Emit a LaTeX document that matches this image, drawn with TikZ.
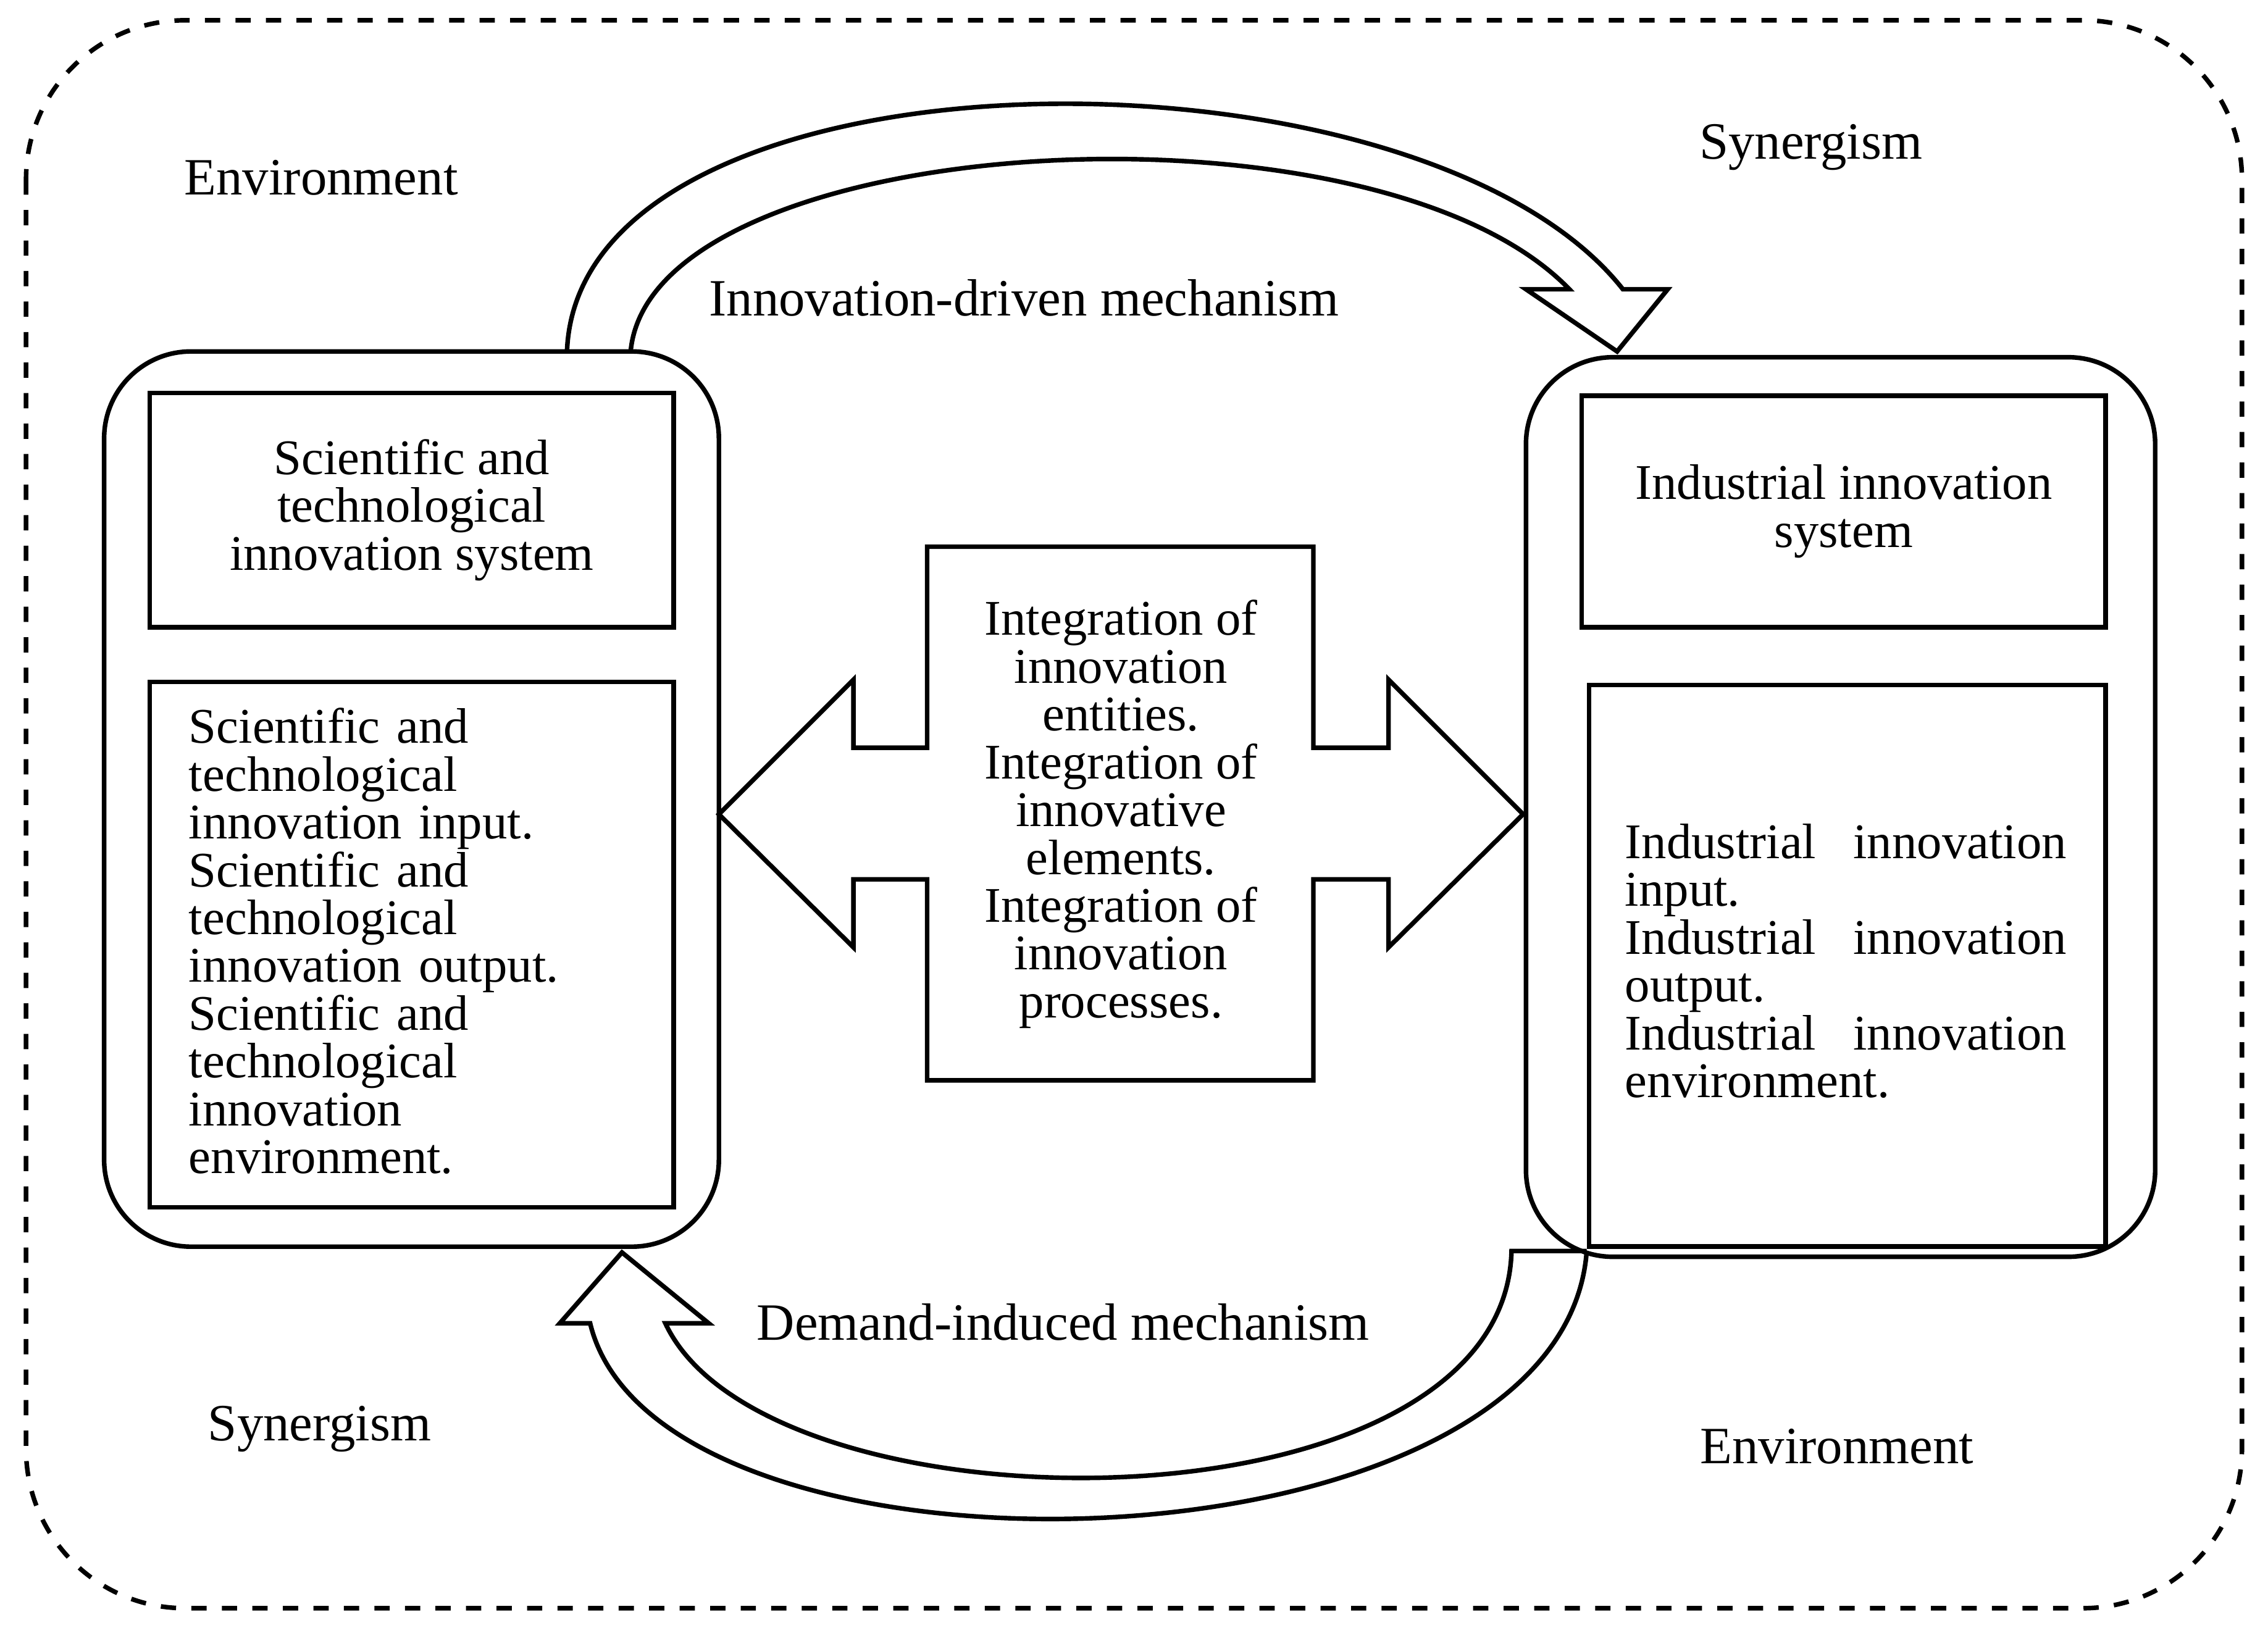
\documentclass[tikz,border=0pt]{standalone}
\usepackage{fontspec}
\setmainfont{Liberation Serif}
\usetikzlibrary{positioning}
\begin{document}
\begin{tikzpicture}[x=0.01cm,y=-0.01cm,line width=0.9pt,
    txt/.style={font=\fontsize{9.8}{9.4}\selectfont,inner sep=0pt},
    box/.style={draw,txt,align=center},
    rbox/.style={draw,rounded corners=0.6cm}]
    \useasboundingbox (0,0) rectangle (1568,1129);
    \draw[dashed,rounded corners=1.1cm] (18,14) rectangle (1550,1112);
    % systems
    \draw[rbox] (72,243) rectangle (497,862);
    \draw[rbox] (1055,247) rectangle (1490,869);
    \node[box,minimum width=3.62cm,minimum height=1.62cm,anchor=north west] (stsys) at (102,270) {Scientific and\\technological\\innovation system};
    \node[box,minimum width=3.62cm,minimum height=3.63cm,anchor=north west] (stel) at (102,470) {};
    \node[txt,align=left,text width=3.3cm,anchor=north west] (sttxt) at (129,488) {Scientific and\\technological\\innovation input.\\Scientific and\\technological\\innovation output.\\Scientific and\\technological\\innovation\\environment.};
    \node[box,minimum width=3.62cm,minimum height=1.6cm,anchor=north west] (insys) at (1092,272) {Industrial innovation\\system};
    \node[box,minimum width=3.57cm,minimum height=3.88cm,anchor=north west] (inel) at (1097,472) {};
    \node[txt,align=justify,text width=3.05cm,anchor=north west] (intxt) at (1122,568) {Industrial innovation input.\\Industrial innovation output.\\Industrial innovation environment.};
    % integration arrow
    \draw (497,563) -- (590,470) -- (590,517) -- (641,517) -- (641,378) -- (908,378)
        -- (908,517) -- (960,517) -- (960,470) -- (1053,563) -- (960,655) -- (960,608)
        -- (908,608) -- (908,747) -- (641,747) -- (641,608) -- (590,608) -- (590,655) -- cycle;
    \node[txt,align=center] (integ) at (775,563) {Integration of\\innovation\\entities.\\Integration of\\innovative\\elements.\\Integration of\\innovation\\processes.};
    % innovation-driven
    \draw (392,243) .. controls (400,25) and (980,20) .. (1122,200) -- (1153,200) -- (1118,243)
        -- (1055,200) -- (1085,200) .. controls (950,60) and (450,90) .. (436,243);
    % demand-induced
    \draw (1097,865) .. controls (1080,1095) and (455,1110) .. (408,915)
        -- (387,915) -- (430,866) -- (490,915) -- (460,915)
        .. controls (530,1065) and (1040,1065) .. (1045,865) -- (1097,865);
    % labels
    \node[txt,font=\fontsize{10.3}{12}\selectfont] (env1) at (222,123) {Environment};
    \node[txt,font=\fontsize{10.3}{12}\selectfont] (syn1) at (1252,102) {Synergism};
    \node[txt,font=\fontsize{10.3}{12}\selectfont] (idm) at (708,206) {Innovation-driven mechanism};
    \node[txt,font=\fontsize{10.3}{12}\selectfont] (dim) at (735,914) {Demand-induced mechanism};
    \node[txt,font=\fontsize{10.3}{12}\selectfont] (syn2) at (221,988) {Synergism};
    \node[txt,font=\fontsize{10.3}{12}\selectfont] (env2) at (1270,1000) {Environment};
\end{tikzpicture}
\end{document}
